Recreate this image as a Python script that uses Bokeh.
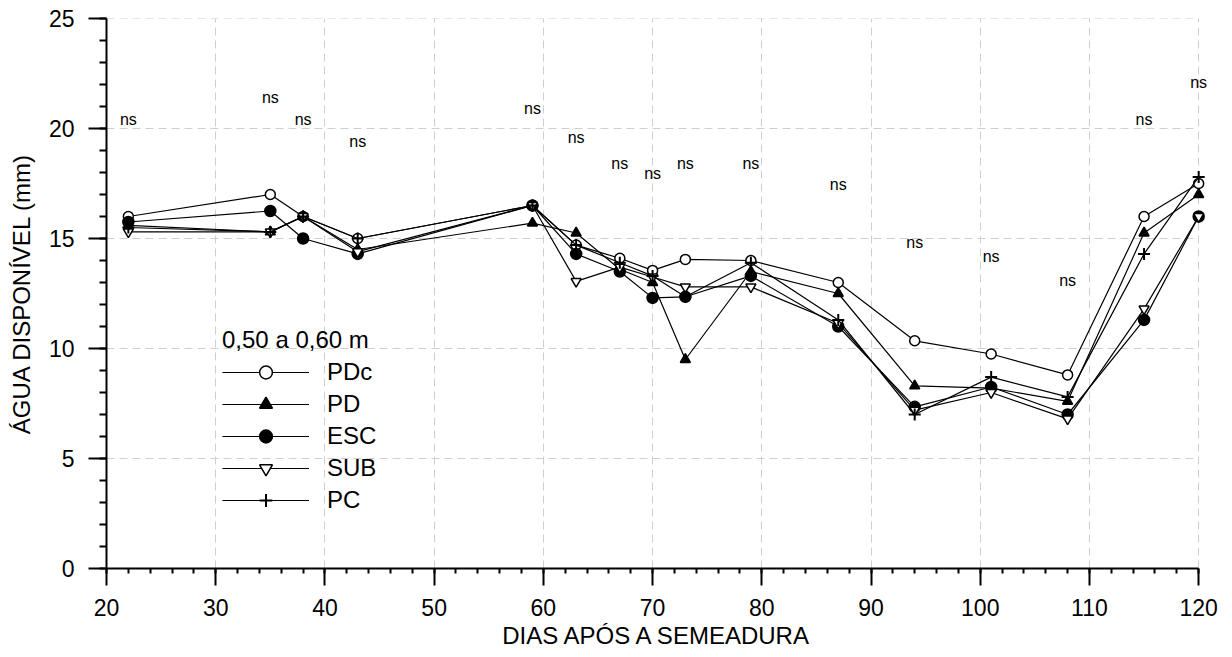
from bokeh.plotting import figure
from bokeh.models import (Range1d, FixedTicker, Legend, LegendItem, ColumnDataSource, LabelSet)
from bokeh.core.properties import value
from bokeh.embed import file_html
from bokeh.resources import INLINE

# ---- data ----
days = [22, 35, 38, 43, 59, 63, 67, 70, 73, 79, 87, 94, 101, 108, 115, 120]
pdc = [16.0, 17.0, 16.0, 15.0, 16.5, 14.7, 14.1, 13.55, 14.05, 14.0, 13.0, 10.35, 9.75, 8.8, 16.0, 17.5]
pd_ = [15.6, 15.3, 16.0, 14.5, 15.7, 15.25, 13.6, 13.0, 9.5, 13.5, 12.5, 8.3, 8.2, 7.6, 15.25, 17.0]
esc = [15.75, 16.25, 15.0, 14.3, 16.5, 14.3, 13.5, 12.3, 12.35, 13.3, 11.0, 7.35, 8.25, 7.0, 11.3, 16.0]
sub = [15.3, 15.3, 16.0, 14.4, 16.5, 13.05, 13.7, 13.25, 12.8, 12.8, 11.15, 7.2, 8.0, 6.8, 11.8, 16.0]
pc = [15.5, 15.3, 16.0, 15.0, 16.5, 14.7, 13.9, 13.3, 12.35, 13.9, 11.3, 7.0, 8.7, 7.8, 14.3, 17.8]
series_names = ["PDc", "PD", "ESC", "SUB", "PC"]

ns_days = [22, 35, 38, 43, 59, 63, 67, 70, 73, 79, 87, 94, 101, 108, 115, 120]
ns_y = [20.4, 21.4, 20.4, 19.4, 20.9, 19.6, 18.4, 17.95, 18.4, 18.4, 17.45, 14.8, 14.2, 13.1, 20.4, 22.1]
ns_text = ["ns"] * len(ns_days)

legend_title = "0,50 a 0,60 m"
x_label = "DIAS APÓS A SEMEADURA"
y_label = "ÁGUA DISPONÍVEL (mm)"
x_ticks = list(range(20, 121, 10))
y_ticks = list(range(0, 26, 5))
x_min, x_max = 20, 120
y_min, y_max = 0, 25
x_view_max = 120.9   # a little room right of the axis so the last "ns" is not clipped

FONT = "Liberation Sans"

p = figure(width=1232, height=657, output_backend="svg", toolbar_location=None,
           x_range=Range1d(x_min, x_view_max), y_range=Range1d(y_min, y_max),
           min_border_left=106, min_border_right=24, min_border_top=18, min_border_bottom=89)
p.outline_line_color = None
p.background_fill_color = "white"

GRID = dict(line_color="#cfcfcf", line_dash="8 5", line_width=1)
# vertical grid
p.xgrid.grid_line_color = GRID["line_color"]
p.xgrid.grid_line_dash = GRID["line_dash"]
p.xgrid.grid_line_width = 1
p.xgrid.ticker = FixedTicker(ticks=x_ticks[1:])
# horizontal grid limited to the axis extent
p.ygrid.visible = False
hy = y_ticks[1:]
p.segment(x0=[x_min] * len(hy), x1=[x_max] * len(hy), y0=hy, y1=hy, **GRID)

# axes
p.xaxis.ticker = FixedTicker(ticks=x_ticks, minor_ticks=list(range(20, 121, 2)))
p.yaxis.ticker = FixedTicker(ticks=y_ticks, minor_ticks=list(range(0, 26, 1)))
p.xaxis.bounds = (x_min, x_max)
for ax in (p.xaxis[0], p.yaxis[0]):
    ax.axis_line_width = 2
    ax.axis_line_color = "black"
    ax.major_tick_line_width = 2
    ax.major_tick_line_color = "black"
    ax.minor_tick_line_width = 2
    ax.minor_tick_line_color = "black"
    ax.major_tick_in = 0
    ax.minor_tick_in = 0
    ax.major_label_text_font = FONT
    ax.major_label_text_font_size = "23px"
    ax.major_label_text_color = "black"
    ax.axis_label_text_font = FONT
    ax.axis_label_text_font_size = "24px"
    ax.axis_label_text_font_style = "normal"
    ax.axis_label_text_color = "black"
p.xaxis.major_tick_out = 17
p.xaxis.minor_tick_out = 5
p.yaxis.major_tick_out = 18
p.yaxis.minor_tick_out = 7
p.xaxis.major_label_standoff = 13
p.yaxis.major_label_standoff = 14
p.xaxis.axis_label_standoff = 3
p.yaxis.axis_label_standoff = 11
p.xaxis.axis_label = x_label
p.yaxis.axis_label = y_label

# series
styles = [
    dict(marker="circle", fill_color="white", size=10),
    dict(marker="triangle", fill_color="black", size=10),
    dict(marker="circle", fill_color="black", size=11),
    dict(marker="inverted_triangle", fill_color="white", size=10),
    dict(marker="cross", fill_color=None, size=12),
]
items = []
for name, vals, st in zip(series_names, [pdc, pd_, esc, sub, pc], styles):
    src = ColumnDataSource(dict(x=days, y=vals))
    lr = p.line("x", "y", source=src, line_color="black", line_width=1.2)
    sr = p.scatter("x", "y", source=src, marker=st["marker"], size=st["size"],
                   fill_color=st["fill_color"], line_color="black",
                   line_width=2 if st["marker"] == "cross" else 1.5)
    items.append(LegendItem(label=name, renderers=[lr, sr]))

# ns labels
ns_src = ColumnDataSource(dict(x=ns_days, y=ns_y, t=ns_text))
p.add_layout(LabelSet(x="x", y="y", text="t", source=ns_src,
                      text_font=value(FONT), text_font_size="16px",
                      text_align="center", text_baseline="middle", text_color="black"))

legend = Legend(items=items, title=legend_title, location=(116, 52),
                background_fill_alpha=0, border_line_alpha=0,
                padding=0, margin=0, spacing=0,
                glyph_width=87, glyph_height=32, label_height=32,
                label_standoff=18,
                label_text_font=FONT, label_text_font_size="24px", label_text_color="black",
                title_text_font=FONT, title_text_font_size="24px", title_text_color="black",
                title_text_font_style="normal", title_standoff=2)
p.add_layout(legend)

open("out.html", "w").write(file_html(p, INLINE))
